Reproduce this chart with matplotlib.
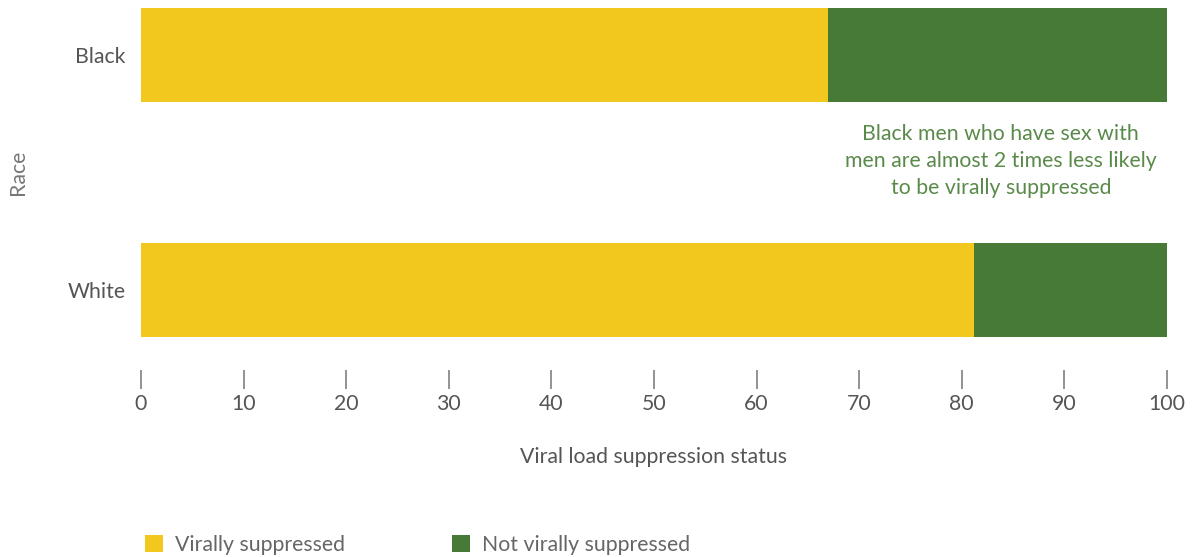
import matplotlib
matplotlib.use("Agg")
import matplotlib.pyplot as plt
from matplotlib.patches import Patch

categories = ["Black", "White"]
suppressed = [67.0, 81.2]
not_suppressed = [33.0, 18.8]
series_names = ["Virally suppressed", "Not virally suppressed"]
colors = ["#F2C71E", "#487A37"]
xticks = [0, 10, 20, 30, 40, 50, 60, 70, 80, 90, 100]
annotation = "Black men who have sex with\nmen are almost 2 times less likely\nto be virally suppressed"

plt.rcParams['font.family'] = ['Lato', 'DejaVu Sans']
FS = 15.3
W, H = 1197, 557
fig = plt.figure(figsize=(W / 100, H / 100), dpi=100)
ax = fig.add_axes([141 / W, 1 - 337 / H, (1167 - 141) / W, (337 - 8) / H])

ypos = [1, 0]
ax.barh(ypos, suppressed, height=0.4, color=colors[0], label=series_names[0])
ax.barh(ypos, not_suppressed, left=suppressed, height=0.4, color=colors[1], label=series_names[1])
ax.set_ylim(-0.2, 1.2)
ax.set_xlim(0, 100)
ax.set_yticks(ypos)
ax.set_yticklabels(categories)
ax.set_xticks(xticks)
ax.set_xticklabels([str(t) for t in xticks])

for s in ["top", "right", "left", "bottom"]:
    ax.spines[s].set_visible(False)
ax.spines["bottom"].set_position(("outward", 24))
ax.tick_params(axis="y", length=0, pad=11, labelsize=FS, labelcolor="#555555")
ax.tick_params(axis="x", direction="out", length=14, width=1.3, color="#8a8a8a",
               pad=3, labelsize=FS, labelcolor="#555555")

ax.set_xlabel("Viral load suppression status", fontsize=FS, color="#555555", labelpad=24)
fig.text(18 / W, 1 - 172 / H, "Race", rotation=90, fontsize=FS, color="#777777",
         ha="center", va="center")

ax.text(83.8, 0.549, annotation, ha="center", va="center",
        fontsize=FS, color="#5A8A4A", linespacing=1.42)

handles = [Patch(facecolor=c, edgecolor="none") for c in colors]
fig.legend(handles, series_names, loc="upper left",
           bbox_to_anchor=(134 / W, 1 - 524 / H), ncol=2, frameon=False,
           fontsize=FS, handlelength=0.85, handleheight=0.85, handletextpad=0.6,
           columnspacing=5.0, borderpad=0, labelcolor="#666666")

fig.savefig("out.png", dpi=100)
